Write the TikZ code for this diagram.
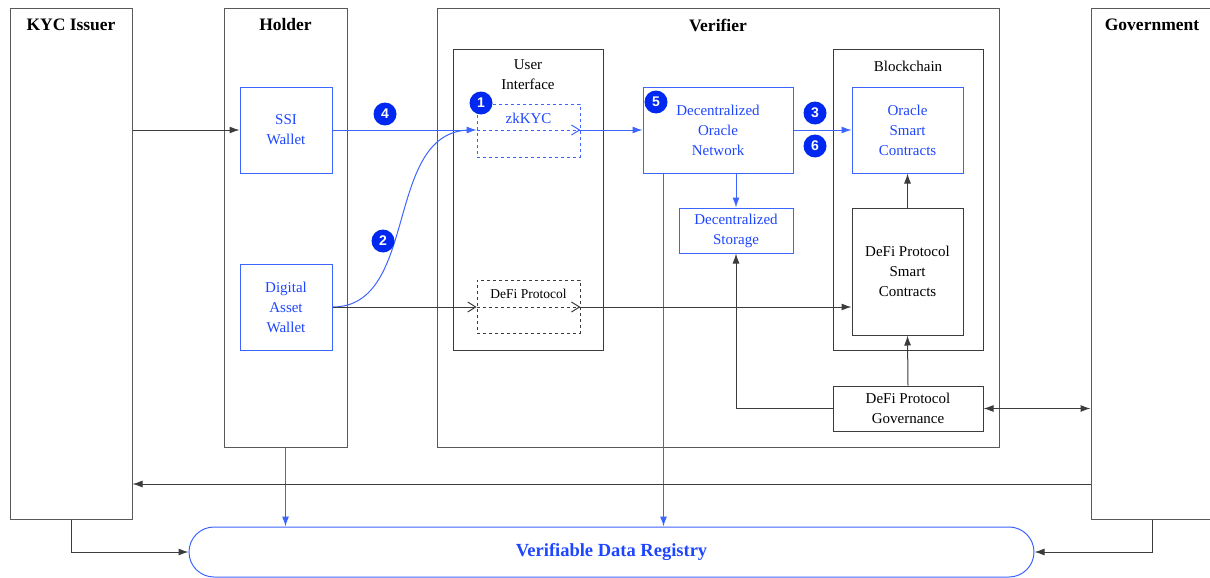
\documentclass[tikz,border=0pt]{standalone}
\usepackage{fontspec}
\setmainfont{Liberation Serif}
\newfontfamily\badgefont{Liberation Sans}
\usetikzlibrary{arrows.meta,calc}
\definecolor{vblue}{RGB}{30,70,255}
\definecolor{lblue}{RGB}{60,100,255}
\definecolor{bdg}{RGB}{0,40,240}
\definecolor{edge}{RGB}{60,60,60}
\tikzset{
  outer/.style={draw=edge!85, line width=1pt, inner sep=0pt},
  inbox/.style={draw=edge, line width=1pt, inner sep=0pt, align=center, font=\fontsize{15}{20}\selectfont},
  bluebox/.style={draw=lblue, line width=1pt, inner sep=0pt, align=center, text=vblue, font=\fontsize{15}{20}\selectfont},
  dashbox/.style={dashed, line width=0.8pt, inner sep=0pt},
  ttl/.style={font=\bfseries\fontsize{17.5}{20}\selectfont, inner sep=0pt},
  lbl/.style={font=\fontsize{15}{20}\selectfont, align=center, inner sep=0pt},
  badge/.style={circle, fill=bdg, text=white, inner sep=0pt, minimum size=23pt, font=\badgefont\bfseries\fontsize{14}{14}\selectfont},
  tip/.style={-{Latex[length=10pt,width=7pt]}},
  open/.style={-{Straight Barb[length=8pt,width=10pt]}},
  bl/.style={draw=lblue, line width=1pt},
  kl/.style={draw=edge, line width=1pt},
}
\begin{document}
\begin{tikzpicture}[x=1pt,y=-1pt]
\useasboundingbox (0,0) rectangle (1210,578);
% outer columns
\node[outer, minimum width=122, minimum height=510] (kyc) at (71,264) {};
\node[ttl] (kyct) at (71,25) {KYC Issuer};
\node[outer, minimum width=123, minimum height=438] (holder) at (285.5,228) {};
\node[ttl] (holdert) at (285.5,25) {Holder};
\node[outer, minimum width=562, minimum height=438] (ver) at (718,228) {};
\node[ttl] (vert) at (718,25) {Verifier};
\node[outer, minimum width=122, minimum height=510] (govt) at (1152,264) {};
\node[ttl] (govtt) at (1152,25) {Government};
% holder
\node[bluebox, minimum width=92, minimum height=86] (ssi) at (286,130) {SSI\\Wallet};
\node[bluebox, minimum width=92, minimum height=86] (daw) at (286,307) {Digital\\Asset\\Wallet};
% user interface
\node[inbox, minimum width=150, minimum height=300] (ui) at (528,200) {};
\node[lbl] (uit) at (528,75) {User\\Interface};
\node[dashbox, draw=lblue, minimum width=103, minimum height=53] (zk) at (528.5,130.5) {};
\node[lbl, text=vblue] (zkt) at (528.5,118) {zkKYC};
\node[dashbox, draw=edge, minimum width=103, minimum height=53] (dp) at (528.5,306.5) {};
\node[lbl, font=\fontsize{13.5}{16}\selectfont] (dpt) at (528.5,294) {DeFi Protocol};
% oracle / storage
\node[bluebox, minimum width=150, minimum height=86] (don) at (718,130) {Decentralized\\Oracle\\Network};
\node[bluebox, minimum width=114, minimum height=45] (ds) at (736,230.5) {Decentralized\\Storage};
% blockchain
\node[inbox, minimum width=150, minimum height=300] (bc) at (908,200) {};
\node[lbl] (bct) at (908,66) {Blockchain};
\node[bluebox, minimum width=111, minimum height=86] (osc) at (907.5,130) {Oracle\\Smart\\Contracts};
\node[inbox, minimum width=111, minimum height=127] (dpsc) at (907.5,271.5) {DeFi Protocol\\Smart\\Contracts};
\node[inbox, minimum width=150, minimum height=45] (gov) at (908,408.5) {DeFi Protocol\\Governance};
% registry
\node[draw=lblue, line width=1pt, rounded corners=25pt, minimum width=845, minimum height=50, inner sep=0pt, text=vblue, font=\bfseries\fontsize{18.5}{20}\selectfont] (vdr) at (611.5,552) {Verifiable Data Registry};
% helper coordinates
\coordinate (donb) at ($(don.south west)+(21,0)$);
\coordinate (yline) at (0,484);
% connectors
\draw[kl, tip] (kyc.east |- ssi) -- (ssi.west);
\draw[bl, tip] (ssi.east) -- (zk.west |- ssi);
\draw[bl, dashed, open] (zk.west |- ssi) -- (zk.east |- ssi);
\draw[bl, tip] (zk.east |- ssi) -- (don.west |- ssi);
\draw[bl, tip] (don.east |- ssi) -- (osc.west |- ssi);
\draw[bl, tip] (don.south -| ds) -- (ds.north);
\draw[bl, tip] (donb) -- (donb |- vdr.north);
\draw[bl, tip] (holder.south) -- (holder.south |- vdr.north);
\draw[bl] (daw.east) to[out=0,in=180] ($(zk.west |- ssi)+(-6,0)$);
\draw[kl, open] (daw.east) -- (dp.west |- daw);
\draw[kl, dashed, open] (dp.west |- daw) -- (dp.east |- daw);
\draw[kl, tip] (dp.east |- daw) -- (dpsc.west |- daw);
\draw[kl, tip] (dpsc.north) -- (osc.south);
\draw[kl, tip] (gov.north) -- (dpsc.south);
\draw[kl, tip] (gov.west) -| (ds.south);
\draw[kl, {Latex[length=10pt,width=7pt]}-{Latex[length=10pt,width=7pt]}] (gov.east) -- (govt.west |- gov);
\draw[kl, tip] (govt.west |- yline) -- (kyc.east |- yline);
\draw[kl, tip] (kyc.south) |- (vdr.west);
\draw[kl, tip] (govt.south) |- (vdr.east);
% badges
\node[badge] (b4) at (385,114) {4};
\node[badge] (b1) at (481,103) {1};
\node[badge] (b5) at (656,102) {5};
\node[badge] (b3) at (815,113) {3};
\node[badge] (b6) at (815,146) {6};
\node[badge] (b2) at (383,241) {2};
\end{tikzpicture}
\end{document}
